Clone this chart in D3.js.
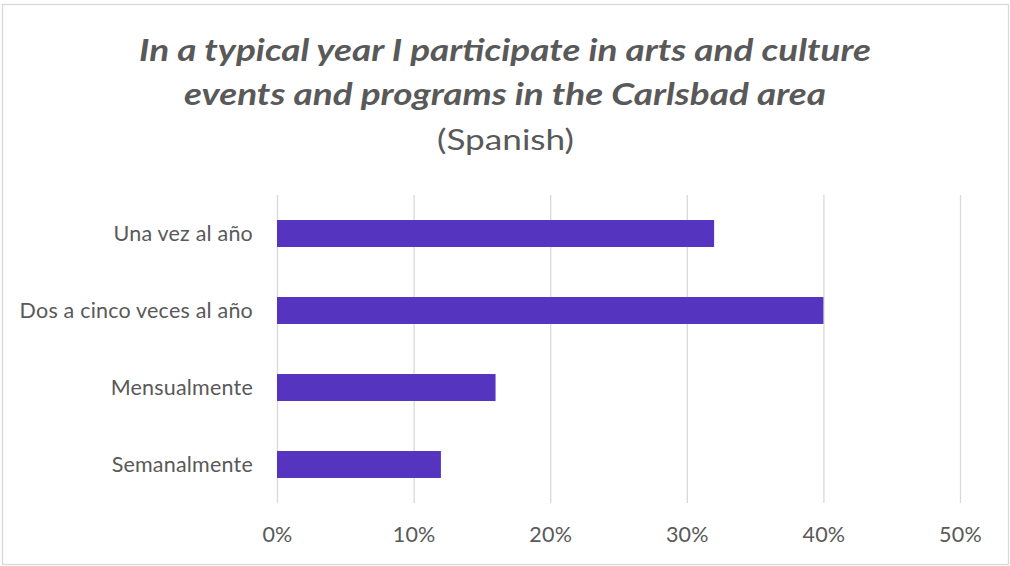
<!DOCTYPE html>
<html>
<head>
<meta charset="utf-8">
<script src="https://cdn.jsdelivr.net/npm/d3@7"></script>
<style>
  html, body { margin: 0; padding: 0; background: #fff; }
  svg { display: block; }
  text { font-family: Lato, "Open Sans", sans-serif; fill: #595959; }
</style>
</head>
<body>
<svg id="chart" width="1010" height="566"></svg>
<script>
// Survey responses: share of respondents per frequency
const categories = ["Una vez al año", "Dos a cinco veces al año", "Mensualmente", "Semanalmente"];
const values = [0.32, 0.40, 0.16, 0.12];
const ticks = [0, 0.1, 0.2, 0.3, 0.4, 0.5];
const titleLines = ["In a typical year I participate in arts and culture", "events and programs in the Carlsbad area"];
const subtitle = "(Spanish)";

const plot = { left: 277, right: 960, top: 195, bottom: 503 };

const svg = d3.select("#chart");

// chart frame
svg.append("rect")
  .attr("x", 2.5).attr("y", 4.5)
  .attr("width", 1006).attr("height", 560)
  .attr("fill", "#fff")
  .attr("stroke", "#d9d9d9")
  .attr("stroke-width", 1.3);

const x = d3.scaleLinear().domain([0, 0.5]).range([plot.left, plot.right]);
const y = d3.scaleBand().domain(categories)
  .range([plot.top, plot.bottom])
  .paddingInner(0.65).paddingOuter(0.325);

// vertical gridlines + percent labels
const xAxis = d3.axisBottom(x)
  .tickValues(ticks)
  .tickFormat(d3.format(".0%"))
  .tickSize(plot.bottom - plot.top)
  .tickPadding(0);

const gx = svg.append("g")
  .attr("transform", `translate(0,${plot.top})`)
  .call(xAxis);
gx.select(".domain").remove();
gx.selectAll(".tick line")
  .attr("stroke", "#d9d9d9")
  .attr("stroke-width", 1.3);
gx.selectAll(".tick text")
  .attr("y", 542 - plot.top)
  .attr("dy", null)
  .style("font-size", "21.5px")
  .style("letter-spacing", "0.2px")
  .attr("fill", "#595959");

// bars
svg.append("g").selectAll("rect")
  .data(categories)
  .join("rect")
  .attr("x", x(0))
  .attr("y", d => y(d))
  .attr("width", (d, i) => x(values[i]) - x(0))
  .attr("height", y.bandwidth())
  .attr("fill", "#5534bf");

// category labels
const yAxis = d3.axisLeft(y).tickSize(0).tickPadding(24);
const gy = svg.append("g")
  .attr("transform", `translate(${plot.left},0)`)
  .call(yAxis);
gy.select(".domain").remove();
gy.selectAll(".tick text")
  .style("font-size", "21.5px")
  .style("letter-spacing", "0.2px")
  .attr("fill", "#595959")
  .attr("dy", "0.33em");

// title
const title = svg.append("g").attr("text-anchor", "middle");
const titleWidths = [732, 642];
const titleBaselines = [61, 105];
titleLines.forEach((line, i) => {
  title.append("text")
    .attr("x", 505)
    .attr("y", titleBaselines[i])
    .attr("textLength", titleWidths[i])
    .attr("lengthAdjust", "spacingAndGlyphs")
    .style("font-size", "31px")
    .style("font-weight", "bold")
    .style("font-style", "italic")
    .text(line);
});
title.append("text")
  .attr("x", 505.5)
  .attr("y", 150)
  .attr("textLength", 137)
  .attr("lengthAdjust", "spacingAndGlyphs")
  .style("font-size", "29px")
  .text(subtitle);
</script>
</body>
</html>
